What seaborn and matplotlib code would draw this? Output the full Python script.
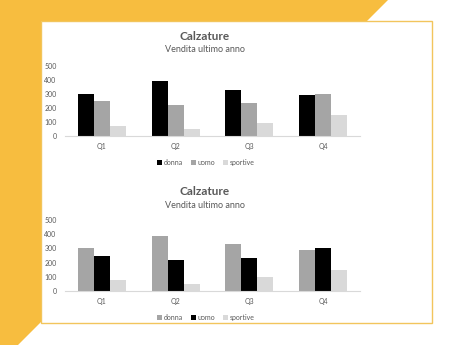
import matplotlib
matplotlib.use("Agg")
import matplotlib.pyplot as plt
from matplotlib.patches import Polygon, Rectangle
import seaborn as sns
import pandas as pd

categories = ["Q1", "Q2", "Q3", "Q4"]
series = ["donna", "uomo", "sportive"]
donna = [300, 390, 330, 290]
uomo = [250, 220, 235, 300]
sportive = [75, 50, 95, 150]
yticks = [0, 100, 200, 300, 400, 500]
title = "Calzature"
subtitle = "Vendita ultimo anno"

df = pd.DataFrame({
    "quarter": categories * 3,
    "serie": [s for s in series for _ in categories],
    "valore": donna + uomo + sportive,
})

sns.set_theme(style="white")
plt.rcParams["font.family"] = ["Lato", "DejaVu Sans"]

W, H = 474, 345
fig = plt.figure(figsize=(W / 100, H / 100), dpi=100)
fig.patch.set_facecolor("white")

YEL = "#f7bd3f"
def P(pts):
    return [(x / W, 1 - y / H) for x, y in pts]

bg = Polygon(P([(0, 0), (388, 0), (367, 21), (41, 21), (41, 322), (18, 345), (0, 345)]),
             closed=True, transform=fig.transFigure, facecolor=YEL, edgecolor="none", zorder=0)
fig.patches.append(bg)
border = Rectangle((41 / W, 1 - 323 / H), (432 - 41) / W, (323 - 21) / H,
                   transform=fig.transFigure, facecolor="white", edgecolor="#f2c55c",
                   linewidth=1.0, zorder=0.5)
fig.patches.append(border)

GRAY = "#a5a5a5"
LIGHT = "#d9d9d9"
TXT = "#595959"

def draw(rect, palette, title_y, sub_y):
    ax = fig.add_axes(rect)
    ax.set_zorder(3)
    ax.set_facecolor("none")
    sns.barplot(data=df, x="quarter", y="valore", hue="serie", order=categories,
                hue_order=series, palette=palette, width=0.65, gap=0,
                saturation=1, ax=ax, legend=False, linewidth=0)
    ax.set_ylim(0, 500)
    ax.set_xlim(-0.5, 3.5)
    ax.set_yticks(yticks)
    ax.set_yticklabels([str(v) for v in yticks])
    ax.tick_params(axis="both", length=0, labelsize=5, colors=TXT, pad=6)
    ax.tick_params(axis="x", pad=5)
    ax.set_xlabel("")
    ax.set_ylabel("")
    for s in ["top", "right", "left"]:
        ax.spines[s].set_visible(False)
    ax.spines["bottom"].set_color(LIGHT)
    ax.spines["bottom"].set_linewidth(0.8)
    fig.text(205 / W, 1 - title_y / H, title, ha="center", va="center",
             fontsize=8.5, fontweight="bold", color=TXT, zorder=3)
    fig.text(205 / W, 1 - sub_y / H, subtitle, ha="center", va="center",
             fontsize=6.5, color=TXT, zorder=3)
    handles = [Rectangle((0, 0), 1, 1, facecolor=c, edgecolor="none") for c in palette]
    return ax, handles

ax1, h1 = draw([65 / W, 1 - 136 / H, 295 / W, 70 / H], ["#000000", GRAY, LIGHT], 37, 50)
leg1 = fig.legend(h1, series, loc="center", bbox_to_anchor=(206 / W, 1 - 162.5 / H), ncol=3,
                  frameon=False, fontsize=5, handlelength=0.7, handleheight=0.7,
                  handletextpad=0.2, columnspacing=1.2, labelcolor=TXT)
leg1.set_zorder(4)

ax2, h2 = draw([65 / W, 1 - 290.7 / H, 295 / W, 70.4 / H], [GRAY, "#000000", LIGHT], 191.7, 205)
leg2 = fig.legend(h2, series, loc="center", bbox_to_anchor=(206 / W, 1 - 317.5 / H), ncol=3,
                  frameon=False, fontsize=5, handlelength=0.7, handleheight=0.7,
                  handletextpad=0.2, columnspacing=1.2, labelcolor=TXT)
leg2.set_zorder(4)

fig.savefig("out.png", dpi=100)
